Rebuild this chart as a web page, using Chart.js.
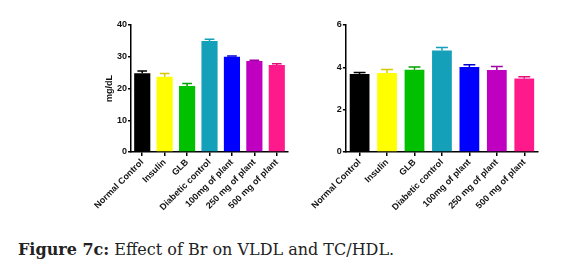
<!DOCTYPE html>
<html>
<head>
<meta charset="utf-8">
<script src="https://cdn.jsdelivr.net/npm/chart.js"></script>
<style>
body { margin: 0; background: #fff; width: 562px; height: 274px; overflow: hidden; position: relative; }
.box { position: absolute; top: 0; height: 240px; }
#caption { position: absolute; left: 18px; top: 240px; font-family: "DejaVu Serif", serif; font-size: 16px; color: #222; white-space: nowrap; }
</style>
</head>
<body>
<div class="box" style="left:93px;width:207px"><canvas id="vldl"></canvas></div>
<div class="box" style="left:310px;width:240px"><canvas id="tchdl"></canvas></div>
<div id="caption"><b>Figure 7c:</b> Effect of Br on VLDL and TC/HDL.</div>
<script>
var groups = ["Normal Control", "Insulin", "GLB", "Diabetic control", "100mg of plant", "250 mg of plant", "500 mg of plant"];
var colors = ["#000000", "#ffff00", "#00c000", "#13a0b8", "#0000ff", "#c000c0", "#ff1a8c"];
var capColors = ["#000000", "#d8c800", "#00a000", "#13a0b8", "#0000d0", "#a000a0", "#e0107a"];

var vldlMean = [24.8, 23.7, 20.8, 35.0, 30.0, 28.7, 27.4];
var vldlErr = [0.7, 1.0, 0.8, 0.5, 0.2, 0.2, 0.4];
var vldlTicks = [0, 10, 20, 30, 40];

var ratioMean = [3.68, 3.73, 3.88, 4.79, 4.02, 3.87, 3.47];
var ratioErr = [0.08, 0.17, 0.13, 0.15, 0.1, 0.17, 0.09];
var ratioTicks = [0, 2, 4, 6];

var font = { family: "Arial, 'Liberation Sans', sans-serif", size: 9, weight: "bold" };

var errorBars = {
    id: "errorBars",
    afterDatasetsDraw: function(chart) {
        var ctx = chart.ctx;
        var ys = chart.scales.y;
        var meta = chart.getDatasetMeta(0);
        var err = chart.options.plugins.errorBars.err;
        var mean = chart.data.datasets[0].data;
        ctx.save();
        ctx.lineWidth = 1.5;
        for (var i = 0; i < mean.length; i++) {
            var x = meta.data[i].x;
            var y0 = ys.getPixelForValue(mean[i]);
            var y1 = ys.getPixelForValue(mean[i] + err[i]);
            var half = meta.data[i].width * 0.3;
            ctx.strokeStyle = capColors[i];
            ctx.beginPath();
            ctx.moveTo(x, y0);
            ctx.lineTo(x, y1);
            ctx.moveTo(x - half, y1);
            ctx.lineTo(x + half, y1);
            ctx.stroke();
        }
        ctx.restore();
    }
};

function makeChart(id, mean, err, ticks, yWidth, title) {
    var ctx = document.getElementById(id).getContext("2d");
    return new Chart(ctx, {
        type: "bar",
        data: {
            labels: groups,
            datasets: [{
                data: mean,
                backgroundColor: colors,
                borderWidth: 0,
                barPercentage: 0.72,
                categoryPercentage: 1
            }]
        },
        options: {
            responsive: true,
            maintainAspectRatio: false,
            animation: false,
            layout: { padding: { top: 25, right: 12, bottom: 0, left: 0 } },
            plugins: {
                legend: { display: false },
                tooltip: { enabled: false },
                errorBars: { err: err }
            },
            scales: {
                x: {
                    offset: true,
                    grid: { display: true, drawOnChartArea: false, offset: false, tickLength: 4, color: "#000", lineWidth: 1.5 },
                    border: { color: "#000", width: 1.5 },
                    ticks: { font: font, color: "#111", minRotation: 45, maxRotation: 45, autoSkip: false, padding: 1 },
                    afterFit: function(s) { s.height = 88; }
                },
                y: {
                    min: ticks[0],
                    max: ticks[ticks.length - 1],
                    afterBuildTicks: function(s) { s.ticks = ticks.map(function(v) { return { value: v }; }); },
                    grid: { display: true, drawOnChartArea: false, tickLength: 3, color: "#000", lineWidth: 1.5 },
                    border: { color: "#000", width: 1.5 },
                    ticks: { font: font, color: "#111", padding: 1 },
                    title: { display: !!title, text: title, font: font, color: "#111", padding: 0 },
                    afterFit: function(s) { s.width = yWidth; }
                }
            }
        },
        plugins: [errorBars]
    });
}

makeChart("vldl", vldlMean, vldlErr, vldlTicks, 27, "mg/dL");
makeChart("tchdl", ratioMean, ratioErr, ratioTicks, 32, "");
</script>
</body>
</html>
